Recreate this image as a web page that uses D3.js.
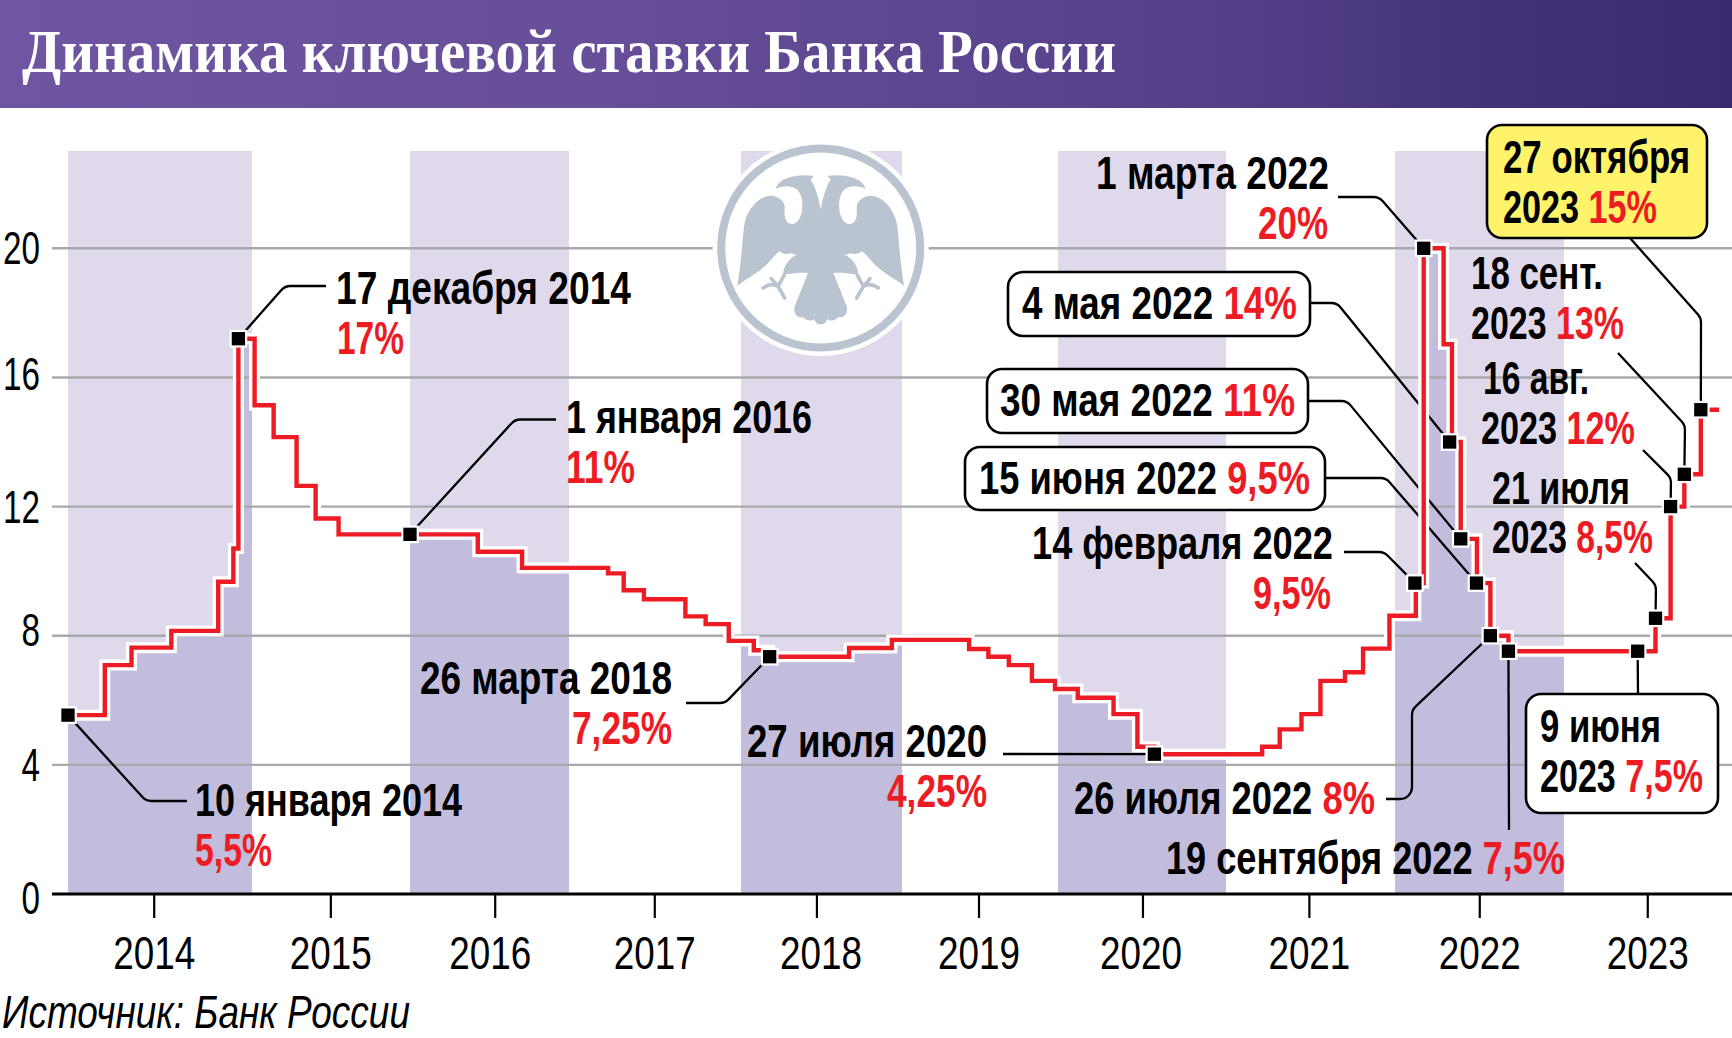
<!DOCTYPE html>
<html>
<head>
<meta charset="utf-8">
<script src="https://d3js.org/d3.v7.min.js"></script>
<style>
    body { margin: 0; background: white; }
    text { font-family: "Liberation Sans Narrow", "Liberation Sans", sans-serif; }
</style>
</head>
<body>
<div id="chart"></div>
<script>
// key rate steps
const rateDates = ["2014-01-01", "2014-03-15", "2014-05-07", "2014-07-25", "2014-10-26", "2014-11-25", "2014-12-05",
    "2015-01-07", "2015-02-20", "2015-04-14", "2015-05-28", "2015-07-20",
    "2016-06-05", "2016-09-15",
    "2017-03-25", "2017-04-27", "2017-06-09", "2017-09-05", "2017-10-18", "2017-12-06",
    "2018-01-30", "2018-03-07", "2018-09-03", "2018-12-09",
    "2019-06-07", "2019-07-22", "2019-09-08", "2019-11-01", "2019-12-25",
    "2020-02-13", "2020-05-01", "2020-06-22", "2020-07-29",
    "2021-03-20", "2021-04-27", "2021-06-13", "2021-07-24", "2021-09-15", "2021-10-24", "2021-12-20",
    "2022-02-15", "2022-03-04", "2022-04-16", "2022-05-04", "2022-05-23", "2022-06-27", "2022-07-26", "2022-09-03",
    "2023-07-20", "2023-08-22", "2023-09-21", "2023-10-27", "2023-12-06"];
const rateValues = [5.54, 7.09, 7.63, 8.15, 9.67, 10.7, 17.2,
    15.14, 14.15, 12.64, 11.63, 11.14,
    10.6, 10.1,
    9.93, 9.41, 9.13, 8.6, 8.36, 7.84,
    7.55, 7.35, 7.62, 7.87,
    7.59, 7.35, 7.09, 6.6, 6.35,
    6.08, 5.57, 4.56, 4.33,
    4.56, 5.1, 5.57, 6.6, 6.87, 7.6, 8.62,
    9.63, 20, 17.03, 14, 11, 9.63, 8, 7.52,
    8.54, 12, 13, 15, 15];

const markerDates = ["2014-01-01", "2014-12-05", "2016-01-01", "2018-03-07", "2020-07-29",
    "2022-02-13", "2022-03-04", "2022-04-29", "2022-05-23", "2022-06-26", "2022-07-26", "2022-09-03",
    "2023-06-11", "2023-07-20", "2023-08-22", "2023-09-21", "2023-10-27"];
const markerValues = [5.54, 17.2, 11.14, 7.35, 4.33,
    9.63, 20, 14, 11, 9.63, 8, 7.52,
    7.52, 8.54, 12, 13, 15];

const yearStarts = ["2014-01-01", "2015-01-01", "2016-01-01", "2017-01-01", "2018-01-01", "2019-01-01",
    "2020-01-01", "2021-01-01", "2022-01-01", "2023-01-01", "2024-01-01"];
const shadedYears = [2014, 2016, 2018, 2020, 2022];
const yearTicks = ["2014-06-20", "2015-07-01", "2016-07-14", "2017-07-01", "2018-06-21", "2019-06-29",
    "2020-07-03", "2021-06-29", "2022-07-02", "2023-07-02"];
const rateTicks = [0, 4, 8, 12, 16, 20];

const titleText = "Динамика ключевой ставки Банка России";
const sourceText = "Источник: Банк России";

// each line is [black part, red part]
const calloutTexts = [
    [["10 января 2014", ""], ["", "5,5%"]],
    [["17 декабря 2014", ""], ["", "17%"]],
    [["1 января 2016", ""], ["", "11%"]],
    [["26 марта 2018", ""], ["", "7,25%"]],
    [["27 июля 2020", ""], ["", "4,25%"]],
    [["14 февраля 2022", ""], ["", "9,5%"]],
    [["1 марта 2022", ""], ["", "20%"]],
    [["4 мая 2022 ", "14%"]],
    [["30 мая 2022 ", "11%"]],
    [["15 июня 2022 ", "9,5%"]],
    [["26 июля 2022 ", "8%"]],
    [["19 сентября 2022 ", "7,5%"]],
    [["9 июня", ""], ["2023 ", "7,5%"]],
    [["21 июля", ""], ["2023 ", "8,5%"]],
    [["16 авг.", ""], ["2023 ", "12%"]],
    [["18 сент.", ""], ["2023 ", "13%"]],
    [["27 октября", ""], ["2023 ", "15%"]]
];

// layout of the callouts, same order as markers: text rows [left, right, baseline], leader from its start to the marker
const calloutLayout = [
    {rows: [[195, 462, 816], [195, 272, 866]], leader: [[187, 801], [146, 801]]},
    {rows: [[336, 631, 304], [337, 404, 354]], leader: [[326, 286], [285, 286]]},
    {rows: [[566, 812, 433], [566, 635, 483]], leader: [[556, 419.5], [515, 419.5]]},
    {rows: [[420, 672, 694], [572, 672, 744]], leader: [[686, 703], [725, 703]]},
    {rows: [[747, 987, 757], [887, 987, 807]], leader: [[1003, 754]]},
    {rows: [[1032, 1333, 559], [1253, 1331, 609]], leader: [[1344, 552], [1384, 552]]},
    {rows: [[1096, 1329, 189], [1258, 1328, 239]], leader: [[1338, 197], [1379, 197]]},
    {rows: [[1022, 1297, 319]], box: [1008, 272, 1310, 336], leader: [[1310, 303], [1337, 303]]},
    {rows: [[1000, 1295, 416]], box: [987, 369, 1308, 433], leader: [[1308, 401], [1347, 401]]},
    {rows: [[979, 1310, 494]], box: [965, 447, 1325, 510], leader: [[1325, 478], [1386, 478]]},
    {rows: [[1074, 1375, 814]], leader: [[1386, 799], [1412, 799], [1412, 710]]},
    {rows: [[1166, 1565, 874]], leader: [[1509, 830]]},
    {rows: [[1540, 1661, 742], [1540, 1703, 792]], box: [1526, 694, 1718, 813], leader: [[1638, 694]]},
    {rows: [[1492, 1630, 504], [1492, 1653, 553]], leader: [[1635, 563], [1656, 585]]},
    {rows: [[1483, 1589, 394], [1481, 1635, 444]], leader: [[1643, 450], [1671, 478]]},
    {rows: [[1471, 1603, 289], [1471, 1624, 339]], leader: [[1618, 353], [1685, 425]]},
    {rows: [[1503, 1690, 173], [1503, 1657, 223]], box: [1487, 125, 1707, 238], fill: "#fff36b", leader: [[1630, 238], [1701, 318]]}
];

const parseDate = d3.timeParse("%Y-%m-%d");
const series = rateDates.map((d, i) => ({date: parseDate(d), value: rateValues[i]}));
const markers = markerDates.map((d, i) => ({date: parseDate(d), value: markerValues[i]}));

const red = "#ed1c24";

const svg = d3.select("#chart").append("svg")
    .attr("width", 1732)
    .attr("height", 1038)
    .style("display", "block");

// the years in the picture are not all the same width, so the scale is piecewise
const x = d3.scaleTime()
    .domain(yearStarts.map(parseDate))
    .range([68, 252, 410, 569, 741, 902, 1058, 1226, 1395, 1564, 1731]);
const y = d3.scaleLinear().domain([0, 20]).range([894, 248.3]);

// header
const defs = svg.append("defs");
const grad = defs.append("linearGradient").attr("id", "header");
[[0, "#6f56a2"], [0.35, "#664e98"], [0.7, "#55408a"], [0.85, "#443376"], [1, "#3a2a6d"]].forEach(s => {
    grad.append("stop").attr("offset", s[0]).attr("stop-color", s[1]);
});
svg.append("rect").attr("width", 1732).attr("height", 108).attr("fill", "url(#header)");
svg.append("text")
    .text(titleText)
    .attr("x", 22)
    .attr("y", 72)
    .attr("fill", "white")
    .attr("font-size", 62)
    .attr("font-weight", "bold")
    .style("font-family", "'Liberation Serif', serif")
    .attr("textLength", 1094)
    .attr("lengthAdjust", "spacingAndGlyphs");

// year bands
const bandX = year => x(parseDate(year + "-01-01"));
const bandTop = 151;
const clip = defs.append("clipPath").attr("id", "bands");
shadedYears.forEach(year => {
    const x0 = bandX(year), x1 = bandX(year + 1);
    svg.append("rect")
        .attr("x", x0).attr("y", bandTop)
        .attr("width", x1 - x0).attr("height", y(0) - bandTop)
        .attr("fill", "#e0d9ec");
    clip.append("rect")
        .attr("x", x0).attr("y", bandTop)
        .attr("width", x1 - x0).attr("height", y(0) - bandTop);
});

const area = d3.area().curve(d3.curveStepAfter)
    .x(d => x(d.date)).y0(y(0)).y1(d => y(d.value));
svg.append("path")
    .attr("d", area(series))
    .attr("fill", "#c2bcdd")
    .attr("clip-path", "url(#bands)");

// grid
svg.selectAll(".grid")
    .data(rateTicks.filter(d => d > 0))
    .enter().append("line")
    .attr("class", "grid")
    .attr("x1", 52).attr("x2", 1732)
    .attr("y1", d => y(d)).attr("y2", d => y(d))
    .attr("stroke", "#a9a9ab")
    .attr("stroke-width", 2.4);

// axes, the labels are squeezed because there is no condensed font here
const yAxis = d3.axisLeft(y).tickValues(rateTicks).tickSize(0).tickPadding(0);
const yAxisG = svg.append("g").attr("transform", "translate(40,0)").call(yAxis);
yAxisG.select(".domain").remove();
const tickDrop = {0: 19, 4: 16, 8: 10, 12: 16, 16: 12, 20: 15};
yAxisG.selectAll("text")
    .attr("font-size", 46)
    .attr("dy", d => tickDrop[d])
    .attr("fill", "black")
    .attr("textLength", d => d < 10 ? 18.5 : 37)
    .attr("lengthAdjust", "spacingAndGlyphs");

const xAxis = d3.axisBottom(x)
    .tickValues(yearTicks.map(parseDate))
    .tickFormat(d3.timeFormat("%Y"))
    .tickSize(24)
    .tickPadding(0);
const xAxisG = svg.append("g").attr("transform", "translate(0," + y(0) + ")").call(xAxis);
xAxisG.select(".domain").remove();
xAxisG.selectAll("line").attr("stroke", "black").attr("stroke-width", 2.2);
// some year labels sit a little off their ticks in the original
const yearNudge = {2016: -5, 2018: 4, 2020: -2};
xAxisG.selectAll("text")
    .attr("font-size", 46)
    .attr("x", d => yearNudge[d.getFullYear()] || 0)
    .attr("y", 75)
    .attr("dy", 0)
    .attr("fill", "black")
    .attr("textLength", 82)
    .attr("lengthAdjust", "spacingAndGlyphs");
svg.append("line")
    .attr("x1", 52).attr("x2", 1732)
    .attr("y1", y(0)).attr("y2", y(0))
    .attr("stroke", "black")
    .attr("stroke-width", 3);

// bank emblem
const emblem = svg.append("g").attr("transform", "translate(820.7,248)");
emblem.append("circle").attr("r", 108).attr("fill", "white");
emblem.append("circle").attr("r", 99.5).attr("fill", "white").attr("stroke", "#b9c4d0").attr("stroke-width", 8);
const eagleHalf = "M-2 -115 L0 -115 C6 -150 16 -185 30 -205 L20 -217 C38 -217 58 -220 78 -215 C103 -212 128 -200 135 -177 " +
    "C118 -187 93 -187 78 -180 C58 -170 53 -140 56 -115 C58 -90 73 -70 88 -72 C108 -75 110 -100 108 -120 " +
    "C106 -140 128 -157 150 -157 C188 -155 223 -115 230 -65 C235 -15 240 55 250 113 C228 95 188 75 163 50 " +
    "C148 35 133 15 123 10 C113 20 98 20 88 15 C78 23 68 20 58 13 C88 25 108 45 113 75 C108 85 78 70 38 75 " +
    "L78 175 C83 200 68 210 53 207 C43 220 28 220 20 213 C13 230 3 230 0 228 L-2 228 Z";
const eagleLeg = "M110 82 L128 115 M128 115 C145 105 160 110 173 120 M128 115 L148 92 M128 115 L108 150";
[1, -1].forEach(side => {
    const half = emblem.append("g").attr("transform", "scale(" + side / 3 + "," + 1 / 3 + ")");
    half.append("path").attr("d", eagleHalf).attr("fill", "#b9c4d0");
    half.append("path").attr("d", eagleLeg)
        .attr("fill", "none")
        .attr("stroke", "#b9c4d0")
        .attr("stroke-width", 11)
        .attr("stroke-linecap", "round");
});

// leader lines, with the corners rounded
function leaderPath(points, radius) {
    const p = d3.path();
    p.moveTo(points[0][0], points[0][1]);
    for (let i = 1; i < points.length - 1; i++) {
        p.arcTo(points[i][0], points[i][1], points[i + 1][0], points[i + 1][1], radius);
    }
    const last = points[points.length - 1];
    p.lineTo(last[0], last[1]);
    return p.toString();
}
svg.selectAll(".leader")
    .data(calloutLayout)
    .enter().append("path")
    .attr("class", "leader")
    .attr("d", (d, i) => leaderPath(d.leader.concat([[x(markers[i].date), y(markers[i].value)]]), 12))
    .attr("fill", "none")
    .attr("stroke", "black")
    .attr("stroke-width", 2.3);

// the step line with a white edge
const line = d3.line().curve(d3.curveStepAfter)
    .x(d => x(d.date)).y(d => y(d.value));
svg.append("path")
    .attr("d", line(series))
    .attr("fill", "none")
    .attr("stroke", "white")
    .attr("stroke-width", 11);
svg.append("path")
    .attr("d", line(series))
    .attr("fill", "none")
    .attr("stroke", red)
    .attr("stroke-width", 4.4);

svg.selectAll(".marker")
    .data(markers)
    .enter().append("rect")
    .attr("class", "marker")
    .attr("x", d => x(d.date) - 7.75)
    .attr("y", d => y(d.value) - 7.75)
    .attr("width", 15.5)
    .attr("height", 15.5)
    .attr("fill", "black")
    .attr("stroke", "white")
    .attr("stroke-width", 2.2);

// callout boxes and their text
calloutLayout.forEach((c, i) => {
    if (c.box) {
        svg.append("rect")
            .attr("x", c.box[0]).attr("y", c.box[1])
            .attr("width", c.box[2] - c.box[0]).attr("height", c.box[3] - c.box[1])
            .attr("rx", 15)
            .attr("fill", c.fill || "white")
            .attr("stroke", "black")
            .attr("stroke-width", 2.6);
    }
    c.rows.forEach((row, j) => {
        const t = svg.append("text")
            .attr("x", row[0])
            .attr("y", row[2])
            .attr("font-size", 46)
            .attr("font-weight", "bold")
            .attr("textLength", row[1] - row[0])
            .attr("lengthAdjust", "spacingAndGlyphs");
        t.append("tspan").text(calloutTexts[i][j][0]).attr("fill", "black");
        t.append("tspan").text(calloutTexts[i][j][1]).attr("fill", red);
    });
});

svg.append("text")
    .text(sourceText)
    .attr("x", 2)
    .attr("y", 1028)
    .attr("font-size", 46)
    .attr("font-style", "italic")
    .attr("textLength", 408)
    .attr("lengthAdjust", "spacingAndGlyphs");
</script>
</body>
</html>
